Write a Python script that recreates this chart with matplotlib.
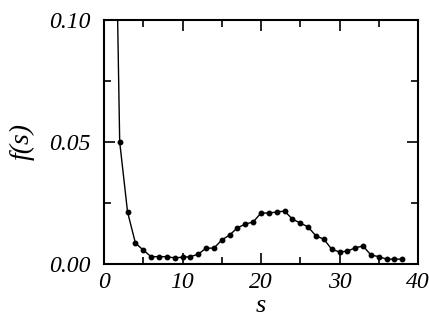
import matplotlib
matplotlib.use("Agg")
import matplotlib.pyplot as plt
from matplotlib.ticker import MultipleLocator, FormatStrFormatter

s = list(range(1, 39))
f = [0.24, 0.050, 0.0213, 0.0086, 0.0057, 0.0030, 0.0030, 0.0030, 0.0025, 0.0028,
     0.0030, 0.0040, 0.0065, 0.0065, 0.0098, 0.0119, 0.0148, 0.0164, 0.0172, 0.0209,
     0.0209, 0.0213, 0.0217, 0.0184, 0.0168, 0.0152, 0.0115, 0.0102, 0.0061, 0.0049,
     0.0053, 0.0066, 0.0074, 0.0037, 0.0030, 0.0020, 0.0020, 0.0020]

xticks = [0, 10, 20, 30, 40]
yticks = [0.00, 0.05, 0.10]

plt.rcParams['font.family'] = ['Liberation Serif', 'DejaVu Serif']
plt.rcParams['font.style'] = 'italic'

fig = plt.figure(figsize=(4.29, 3.2), dpi=100)
ax = fig.add_axes([104/429, 1-264/320, (418-104)/429, (264-20)/320])
ax.plot(s, f, color='black', lw=1.0, marker='o', ms=3.2, clip_on=True)
ax.set_xlim(0, 40)
ax.set_ylim(0, 0.10)
ax.set_xticks(xticks)
ax.set_yticks(yticks)
ax.xaxis.set_minor_locator(MultipleLocator(5))
ax.yaxis.set_minor_locator(MultipleLocator(0.025))
ax.yaxis.set_major_formatter(FormatStrFormatter('%.2f'))
ax.tick_params(which='both', direction='in', top=True, right=True, width=1.2, labelsize=17, colors='black')
ax.tick_params(which='major', length=8)
ax.tick_params(which='minor', length=5)
ax.tick_params(axis='x', pad=6)
ax.tick_params(axis='y', pad=10)
for sp in ax.spines.values():
    sp.set_linewidth(1.5)
ax.set_xlabel('s', fontsize=19, style='italic', labelpad=1)
ax.set_ylabel('f(s)', fontsize=20, style='italic', labelpad=10)
for lab in ax.get_xticklabels() + ax.get_yticklabels():
    lab.set_style('italic')
fig.savefig('out.png', dpi=100)
